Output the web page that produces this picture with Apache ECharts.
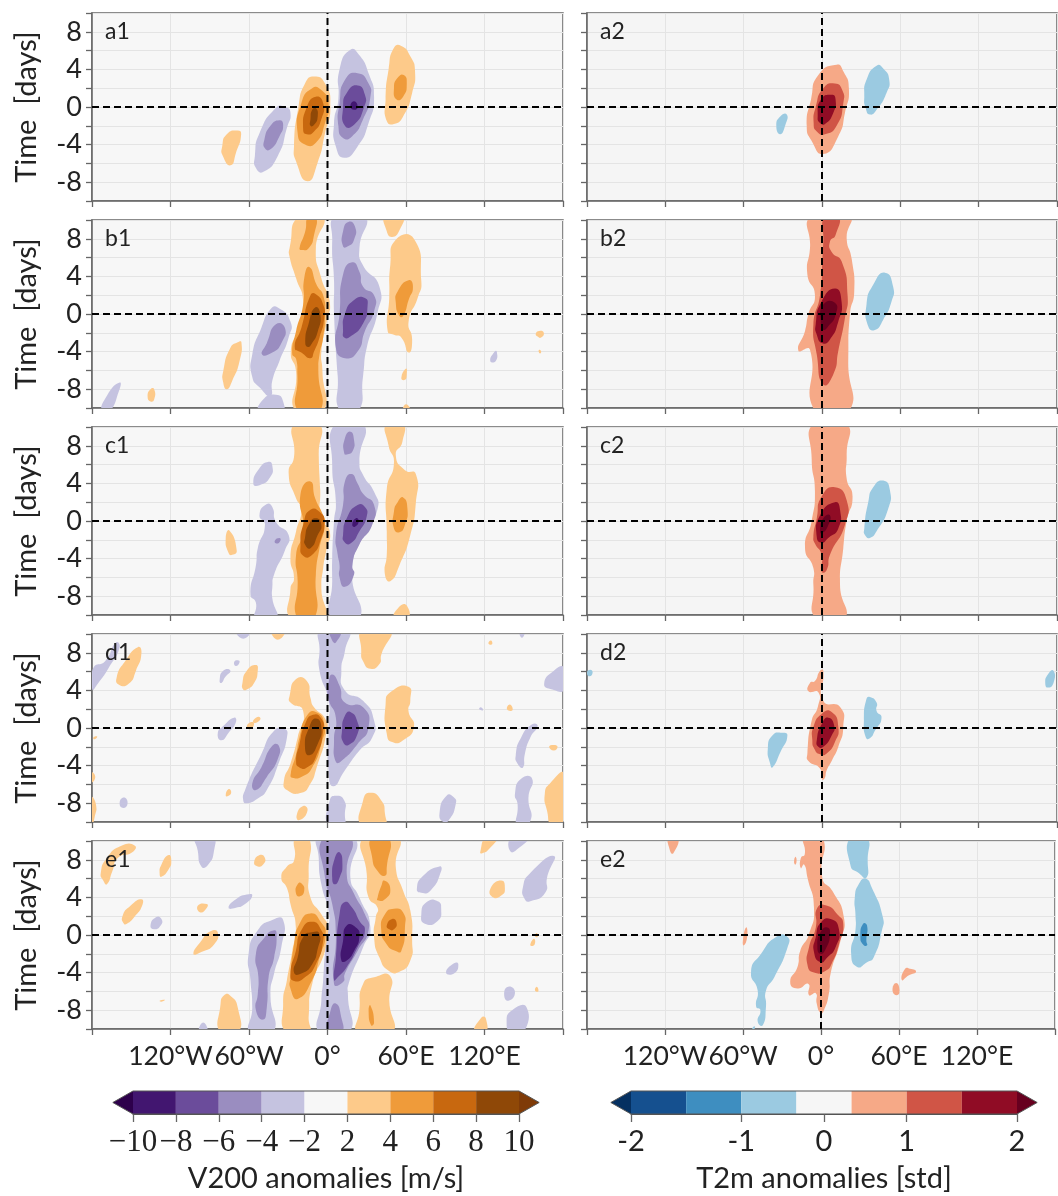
<!DOCTYPE html>
<html><head><meta charset="utf-8">
<style>html,body{margin:0;padding:0;background:#fff;overflow:hidden}#c{width:1058px;height:1196px}</style>
<script src="https://cdn.jsdelivr.net/npm/echarts@6/dist/echarts.min.js"></script>
</head><body><div id="c"></div>
<script>
// contour regions: [level, [lon, day, lon, day, ...]]  outer levels first
const a1=[
[2,[-80.5,-4.2,-77,-2.9,-68.6,-2.5,-66,-2.9,-70,-4.9,-74,-6.2,-80,-5.2]],
[-2,[-55.5,-5.2,-52,-2.8,-39.5,-0.1,-32.5,0,-28.3,-0.6,-31,-2.2,-38,-5.2,-49,-6.9,-54.7,-6.5]],
[-4,[-48.3,-3.5,-43.6,-2,-36.7,-1.4,-33.9,-1.9,-36.7,-3.1,-43.6,-4.5,-47.8,-4.4]],
[2,[-25.6,-4.2,-22.2,0,-17.2,2.5,-10.3,3.25,-1.9,2.5,2.2,0,-1.9,-2.8,-7.5,-5.9,-15.3,-7.9,-24,-5.8]],
[4,[-22.8,-2.8,-20,0.4,-11.7,2,-4.7,1.8,0.8,0.4,-1.9,-1.7,-8.9,-3.8,-17.2,-4]],
[6,[-18.6,-2.4,-15.8,0,-8.9,1.1,-3.3,0.4,-4.7,-1.3,-10.3,-2.6,-15.8,-2.9]],
[8,[-13,-1.3,-11.7,-0.3,-8.9,-0.1,-7.5,-1,-10.3,-1.9,-13,-2]],
[-2,[8.3,0.8,9.2,4,17.5,6.1,24.4,5.5,31.4,3.6,35.6,1.1,31.4,-1.7,23,-4.2,12.8,-5.4,6.4,-4.2,5,-1.7]],
[-4,[9.2,0.4,13.4,2.9,23,3.6,31.4,2.5,32.8,1.1,27.2,-1.3,18.9,-3.1,11.9,-3.3,8.3,-2]],
[-6,[11.9,0,14.7,1.5,23,2.3,28.6,1.3,28,0,20.3,-1.9,13.3,-2]],
[-8,[17.5,0.1,20.3,0.6,23,0,20.3,-0.3]],
[2,[44.4,0.8,46.7,4,50.8,6.3,56.4,6.5,63.3,5.4,66.9,3.8,64.7,1.5,57.8,-1,50.8,-1.8,45.3,-1.5]],
[4,[50.8,2,53.6,3.1,58.3,3.4,60.6,2.5,57.8,1.1,52.8,0.8]]
];
const a2=[
[-0.33,[-35,-2,-32,-1,-27,-0.8,-28,-1.9,-32,-2.9]],
[-0.33,[32.4,1.1,34.1,2.9,41.8,4.4,46.9,4.1,51.5,2.9,49.4,1.5,41.8,-0.3,36.7,-0.8,33.4,-0.1]],
[0.33,[-11.7,-2,-8.4,0.8,-2.8,3.4,11.2,4.5,16.3,3.8,20.6,2,17.6,-0.6,12.5,-3.1,1,-5,-8,-3.6]],
[1,[-6.4,-1.7,-4.8,0,1,2,9.9,2.5,15.5,1.8,16.3,0.4,11.2,-2,2.3,-2.9,-4,-2.6]],
[1.5,[-3.3,-1,-0.8,0.8,7.4,1.3,10.4,0.8,8.7,-0.6,2.3,-1.8,-1.5,-1.7]]
];
const b1=[
[-2,[-172.8,-10.5,-168.6,-8.7,-158.9,-7.3,-159.4,-8.2,-167.2,-10.5]],
[2,[-135.3,-8,-132.5,-8,-132.5,-9.1,-135.3,-9.3,-137.5,-8.8]],
[2,[-79.7,-6.1,-74.2,-3.6,-68.6,-3,-65.8,-3,-67.2,-5,-72.8,-7.1,-77,-8,-79.7,-7.3]],
[-2,[-57.5,-4.3,-50.6,-1.5,-43.6,0.5,-38,0.7,-28.3,-0.8,-29.7,-2.5,-36.7,-5,-42.2,-7.1,-43.6,-8.7,-52,-7.8,-57.5,-6.7]],
[-2,[-52,-10.5,-49.2,-9.1,-39.4,-8.6,-33.9,-9.3,-35.3,-10.5]],
[-4,[-50,-4.3,-46.4,-3.1,-39.4,-1.1,-32.5,-1.5,-35.3,-3.1,-42.2,-4.1]],
[2,[-21.4,10.5,-29,7,-29,6.1,-24,3.8,-18.6,1.3,-22,-1.5,-28,-4,-24,-6.1,-24,-10.5,-3.9,-10.5,-3.9,-6,-4.7,-4,-0.6,-0.8,1.7,1.3,-4.7,3.8,-8.9,7,-3.3,10.5]],
[4,[-21.4,7,-17.2,8.7,-14.4,10.5,-8.9,10.5,-10.3,8.4,-14.4,7,-20,6.8]],
[4,[-13.9,5,-8,3,-3.3,2,-1.9,0,-3.3,-2.5,-6.1,-4.3,-7,-6,-6,-10.5,-22,-10.5,-23,-6.5,-24,-4.8,-27,-4.2,-24,-1.8,-18.6,1,-17.8,3.8]],
[6,[-25,-3.6,-20,-1.5,-13,2,-8.9,2.1,-3.3,1,-2.5,-0.4,-6.1,-2.5,-10.3,-4,-13,-4.7,-20,-4.1]],
[8,[-17,-3,-14.4,-1,-9.4,0.7,-5.5,0,-7.5,-1.9,-12.2,-3.2,-15,-3.5]],
[-2,[6.4,10.5,28.6,10.5,24.4,7,27,5.2,39.7,2.9,38,0,30,-3.6,27.2,-6.6,23,-10.5,10,-10.5,7.8,-6.6,5,0,5,3.5,3.6,7.8]],
[-4,[11.9,7.2,11.9,8.8,16,9.8,21,9.3,20.3,7.9,15.6,7.2]],
[-4,[6.4,-3.6,9.2,0,11.9,4.2,18.9,5.5,24.4,4.5,27.2,2.9,35.6,2,35.6,0.3,28.6,-1.8,23,-4,13.3,-4.7]],
[-6,[11.9,-1.8,13.3,0,20.3,1.5,28.6,1.7,30.6,0.8,27.2,-1,17.5,-2.4,12.8,-2.5]],
[2,[44.4,10.5,57.2,10.5,55,8.9,49.4,8.2,45.3,8.8]],
[2,[46,-1.8,47.2,1.7,48,5.2,52.2,7.9,66,8,71.7,3.5,68.9,1.7,62,-0.8,64.7,-2.7,62,-4.1,56.4,-2.5,50.8,-2.2]],
[4,[52.2,1.2,53.6,2.4,62,3.6,65.3,2.9,62,1.5,57.8,-0.2,55,-0.2]],
[2,[56.4,-6.8,60,-5.8,60.6,-6.4,59.2,-7]],
[2,[57.8,-10.3,60,-9.6,63.3,-10.3]],
[2,[159.2,-2.1,161.9,-1.8,165.3,-2,163.3,-2.5,160.6,-2.4]],
[2,[161.9,-3.8,163.3,-4,162.5,-4.2,161.4,-4]],
[-2,[124.4,-5,127.8,-4,129.4,-4,128.6,-5]]
];
const b2=[
[-0.33,[34.1,1,39.2,3.1,48.2,4.4,54.5,2.9,53.2,1.3,46.9,-0.6,40.5,-1.7,35.4,-1.3]],
[0.33,[-7.9,10.5,-9.2,7,-11.2,4.2,-5.4,2,-10.4,0,-13,-1.8,-18.1,-3.9,-9.2,-3.8,-4.8,-10.5,20.1,-10.5,20.1,-5,21.4,0,24.7,2.4,22.7,5.9,18.9,8,20.6,10.5]],
[1,[2.3,10.5,12.5,10.5,10.4,8.4,6.1,7.7,7.4,6.6,15,5.6,19.6,2,17.6,-0.4,12.5,-3.9,8.7,-6.4,1,-7.5,-4,-4.3,-6.6,-1.1,-1.5,2,0.3,5.6,1,7.7]],
[1.5,[-4.8,-1.1,-0.8,1.2,9.9,2.7,15,1.3,12.5,-0.8,6.1,-2.7,0.3,-3.1,-4,-2.2]],
[2,[-0.8,-1.1,1,1,9.9,1.2,10.4,-0.1,4.8,-1.3,1,-1.7]]
];
const c1=[
[-2,[-56.7,4,-52,5.6,-45,6.3,-42.2,5.9,-43.6,4.7,-52,3.8]],
[-2,[-52,0.6,-46.4,1.8,-42.2,1.5,-39.4,-0.1,-29.7,-1.5,-32.5,-3.1,-40.8,-5.7,-42.2,-7.1,-42.2,-8.2,-39.4,-10.5,-54.7,-10.5,-54.7,-8.7,-58.9,-7.8,-54.7,-4.7,-53.3,-2.9,-47.8,-0.4]],
[-4,[-40.3,-2.1,-36.7,-1.8,-36,-2.1,-38.9,-2.4]],
[2,[-77.8,-1.8,-75,-1,-69.4,-3.1,-72.8,-3.6,-75.6,-3.4]],
[2,[-25,10.5,-25.6,6.8,-29.7,5.1,-24,2.4,-20,1.3,-24,-1.1,-28.3,-3.9,-25.6,-6.1,-28.3,-7.2,-27,-10.5,-2.8,-10.5,-4.7,-7.2,-3.3,-5,-0.6,-2.9,1.7,-1.1,-4.7,0.3,-5.6,3.4,-6.7,7,-6.7,10.5]],
[4,[-22.8,-10.5,-22.8,-6.4,-24,-3.6,-18.6,-1.1,-20.6,2.9,-13,4.2,-9.4,2.4,-3.3,0.6,-1.9,-0.4,-6.1,-2.9,-8.9,-5.7,-10.3,-10.5]],
[6,[-20.6,-2.5,-18.6,-0.4,-13,1.2,-4.7,0.8,-2.5,-0.1,-4.7,-1.8,-11.7,-3.6,-18.6,-3.7]],
[8,[-17.2,-1.8,-14.4,-0.4,-8.9,0.3,-4.7,-0.4,-7.5,-1.5,-13,-2.9,-17.2,-2.5]],
[-2,[6.4,10.5,3.6,5.9,6.4,2,5,0,3.6,-3.9,3.6,-6.4,3.6,-10.5,24.4,-10.5,18.9,-5.4,28.6,-1.1,38.3,1.3,35.6,3.1,27.2,4.9,24.4,6.3,27.2,10.5]],
[-4,[12.8,7.2,13.3,8.8,17.5,9.5,20.3,8.6,19.4,7.5,15.6,7.1]],
[-4,[7.8,-3.6,6.4,-1.5,11.9,1.7,13.3,4.2,18.3,5,23,4,27.2,2.9,35.6,1.7,34.2,-0.4,24.4,-2.5,18.9,-4.7,20.3,-5.7,13.3,-7,9.2,-6,9.2,-4.7]],
[-6,[11.9,-1.5,14.7,0.3,23,1.7,28.6,1.5,30,0.5,24.4,-1.1,17.5,-2.4,12.8,-2.2]],
[-8,[18.9,-0.4,21.7,0.3,23.9,0,21,-0.6]],
[2,[45.3,10.5,57.2,10.5,57.2,8.4,52.2,7,59.2,5.4,67.5,5,67.5,1.9,63.3,-1.5,55,-4.7,48,-6.4,43.9,-5.7,45.3,-3.6,45.3,-1.1,45.3,3.4,50.8,6.2,46.7,8]],
[4,[50.8,1,53.6,2,57.8,2.5,61.1,1.3,59.2,-0.4,55,-1.2,50.8,-0.8]],
[2,[50.8,-10.5,55,-9.1,60.6,-9,61.1,-10.5]]
];
const c2=[
[-0.33,[32.4,-0.8,35.4,2,39.2,3.6,46.9,4.3,52,3.3,50.7,1.3,41.8,-1.1,36.7,-1.8,32.9,-1.5]],
[0.33,[-5.9,10.5,-7.9,6.6,-5.4,3.1,-7.9,0,-13,-2.9,-6.6,-5,-6.6,-6.8,-4,-10.5,17.1,-10.5,13.8,-6.8,16.3,-2.9,18.9,0,23.4,2.6,18.9,4.5,18.9,7,18.1,10.5]],
[1,[-6.6,-1.7,-4,0.3,-0.3,2.6,9.9,3.6,18.9,2.2,17.6,-0.4,6.1,-3.6,3.6,-5.2,-0.3,-5.4,-0.3,-3.6,-5.4,-2.4]],
[1.5,[-4,-1.7,-1.5,0.6,9.9,2,13.8,1.2,12.5,-0.8,4.8,-1.8,-0.3,-2.3]],
[2,[-1.5,-1.1,1,0.3,6.1,0.6,4.3,-0.6,-0.3,-1.3]]
];
const d1=[
[-2,[-179.7,4.1,-178.9,6.4,-170,7.1,-161.7,9.1,-158.9,8.6,-167.2,6.4,-175.6,4.7]],
[2,[-161.1,5.4,-154.7,7.1,-145,8.6,-142.2,8,-146.4,6.1,-152,4.7,-159.4,4.6]],
[-2,[-82.5,5,-79.7,6.1,-74.2,6.1,-78.3,5.4,-81,4.8]],
[-2,[-71.4,7,-68.6,7.2,-67.2,7,-70,6.6]],
[2,[-65,4.8,-61.7,6.1,-54.7,6.7,-53.3,6.1,-56.1,4.8,-61.7,4.1,-64.4,4.1]],
[-2,[-70,10.5,-58.9,10.5,-64.4,9.5]],
[2,[-42.8,10.5,-32.5,10.5,-38,9.4]],
[-2,[-83.9,-0.6,-79.7,0.2,-71.4,1.1,-70,0.6,-75.6,-0.5,-81,-1.3]],
[2,[-61.7,0.1,-58.9,0.6,-56.1,0.5,-58.9,-0.1]],
[2,[-56.9,0.6,-54.7,1.1,-51.4,1.1,-52.8,0.7]],
[-2,[-64.4,-7.7,-63,-6.6,-50.6,-2.8,-40.8,-0.3,-32.5,-0.1,-31,-1,-36.7,-3.5,-46.4,-6.6,-53.3,-7.5,-61.7,-8]],
[-4,[-57.5,-5.9,-50.6,-4.2,-42.2,-1.9,-37.2,-1.9,-38,-3.3,-46.4,-5.2,-54.7,-6.6]],
[2,[-33.3,-5.6,-28.3,-3.8,-22.8,-1,-18.6,1.8,-28.3,2.7,-29,3.4,-24,5.2,-15.8,5,-13,3.2,-10.3,2.2,-1.9,1,-0.6,-0.3,-8.9,-4.5,-13,-5.9,-20,-6.9,-31,-6.6]],
[4,[-28,-4.8,-24,-2.8,-21.4,-1,-15.8,1.3,-8.9,1.7,-2.5,0.4,-4.7,-1.7,-11.7,-4.2,-18.6,-5.1,-27,-5.3]],
[6,[-24,-3.6,-21.4,-1.7,-17.2,0.4,-11.1,1.4,-4.7,1,-3.3,-0.3,-8.9,-3.1,-15.8,-4.2,-21.4,-4.2]],
[8,[-17.2,-2,-13.9,0.1,-8.9,1,-4.7,0.1,-7.5,-1.7,-13.9,-2.9]],
[2,[-77.8,-7.2,-75.6,-6.5,-73.6,-6.8,-75.6,-7.2]],
[-2,[-158.9,-8,-155.6,-7.4,-152.8,-8,-156.1,-8.5]],
[2,[-181,-5.8,-181,-4.7,-177.5,-5.2]],
[2,[-180.5,-10.5,-180.5,-7.4,-177,-8.1,-178,-9.5]],
[2,[-179,-1,-176,-0.9,-178,-1.2]],
[2,[-23.6,-9.3,-18.6,-8.3,-15.3,-8.8,-21.4,-9.8]],
[-2,[-4.7,10.5,15.6,10.5,13.3,8.2,10.6,6.1,13.3,4,27.2,2.9,35.6,0.8,34.2,-1,24.4,-2.4,13.3,-4.5,4.4,-6.2,0.8,-4.5,0.8,0.1,0.8,2.9,-6.1,6.1,-6.1,8.2]],
[-4,[2.2,10.5,10,10.5,6.4,9.1,3.6,9.3]],
[-4,[3.6,5.7,9.2,4.5,13.3,2.7,27.2,2.2,31.4,0.1,23,-1.7,10.6,-3.5,6.4,-3.6,5,-1.3,6.4,1.1,0.8,3.1,0.8,4.7]],
[-6,[11.1,-0.3,13.3,1.3,17.5,1.7,23,0.6,23,-0.6,16.1,-1.8,11.9,-1.5]],
[-2,[0.8,-10.5,1.7,-7.7,6.4,-7.2,12.8,-7.7,13.3,-9.1,11.9,-10.5]],
[2,[27.2,10.5,48,10.5,41.1,7.8,39.7,6.8,32.8,6.3,27.2,7.1,25.8,8.2]],
[2,[44.4,2.5,48,3.8,61.9,4.4,63.3,2.9,61.9,1.8,66.1,0.1,57.8,-1.3,49.4,-1.5,45.3,-0.6]],
[2,[26.4,-10.5,27.2,-7.7,32.8,-6.9,41.1,-7.7,43.9,-9.1,43.3,-10.5]],
[-2,[85.6,-9.1,91,-7.2,96.7,-7.4,98,-8.1,92.8,-9.8,88.6,-10]],
[-2,[143.9,-2.9,148,-1,156.4,0.4,160.6,0.2,155,-1,150.8,-2.8,149.4,-4.2,145.3,-3.8]],
[-2,[143.3,-7,148,-5.4,156.4,-5.4,153.6,-7.4,155,-9.9,145.3,-10.5,145.3,-8.1]],
[2,[166.1,-7,170,-5.9,181,-4.9,181,-10.5,172,-10.5,167.8,-8.8]],
[-2,[165.6,4.7,173,6.1,181,6.4,181,4.1,171.7,4.1]],
[2,[137.2,2,139.4,2.5,141.4,1.9]],
[2,[123,9,125,9.3,125.8,8.9]],
[-2,[116,2,117.2,2.2,118.9,1.9]],
[2,[169.4,-2,173,-1.8,175.8,-2,173,-2.4]],
[-2,[146.7,10.5,150.8,10.5,148.6,9.6]]
];
const d2=[
[-0.33,[-180,5.9,-177.5,6.2,-175.7,5.9,-178,5.5]],
[-0.33,[171,4.8,173,5.7,177.3,6.1,177.3,4.8,173,4.3]],
[-0.33,[-41.5,-2.2,-38,-0.8,-30.8,-0.5,-26.5,-0.8,-32,-2.6,-38,-4.2,-39.7,-3.8]],
[-0.33,[32.1,0.8,34.1,3.1,36.7,3.3,41.8,2.7,41.8,1.8,45.6,1.1,40.5,-0.3,36.7,-1.1,33.6,-1]],
[0.33,[-10.4,3.9,-9.2,4.8,-5.4,5,-1.5,6.1,1,6.1,1,2.9,14,2.2,16.3,0.1,12.5,-2,7.4,-3.5,3.6,-4.5,1.8,-5.4,-0.3,-5.4,-1.5,-4.3,-10.4,-3.5,-11.2,-2.7,-7.9,0.8,-3.3,2.2,-2.8,3.8]],
[1,[-7.4,-1.3,-6.6,0.1,-0.3,1.5,7.4,1.7,12.5,0.1,9.9,-1.5,3.6,-2.7,-1.5,-2.8,-5.9,-2.2]],
[1.5,[-4,-1.3,-0.3,0.4,4.8,1.1,9.4,0.2,7.4,-0.8,1,-2,-2.8,-2]]
];
const e1=[
[2,[-173.3,6.6,-168.6,8.2,-157.5,9.5,-147.2,9.5,-149.2,8.8,-160.3,8.2,-164.4,6.8,-168.6,5.4,-171.4,5.8]],
[2,[-128.3,6.5,-126.9,7.5,-121.4,8.5,-119.4,7.9,-121.4,7,-126.9,6.2]],
[-2,[-100.6,10.5,-88,10.5,-86.7,9,-91.7,7.4,-96.4,7.3,-99.2,9]],
[2,[-56.1,7.7,-51.9,8.5,-47.8,8.2,-49.2,7.5,-53.3,7.3]],
[-2,[-75.6,2.9,-70,3.8,-61.7,4.3,-57.5,4.2,-63,3.3,-70,2.9]],
[2,[-156.7,2,-150.6,3.1,-142.2,3.8,-141.7,3.1,-147.8,1.9,-153.3,1.2,-155.6,1.2]],
[2,[-99.2,3.1,-92.2,3.3,-92.2,2.9,-97.2,2.4]],
[-2,[-135.3,1,-131.1,1.9,-126.9,1.7,-127.5,1,-132.5,0.6]],
[2,[-102.5,-2,-96.4,-0.6,-89.4,0.4,-83.9,0.3,-86.7,-1,-96.4,-1.8]],
[-2,[-53.3,0.5,-42.2,1.6,-33.9,1.6,-35.3,-1.3,-40.8,-4.1,-43.6,-6.3,-41.7,-10.5,-58.9,-10.5,-57.5,-7.7,-58.9,-4.8,-60.3,-2]],
[-4,[-54.7,-2,-47.8,-0.2,-40.8,0.5,-38.9,0.1,-40.8,-2.4,-45,-4.5,-46.4,-7.7,-49.2,-9,-54.7,-8,-53.3,-6.3,-52.8,-4.5]],
[2,[-35.3,6.1,-31,7.3,-25.6,7.9,-24.2,10.5,-14.4,10.5,-14.4,6.6,-13,4,-4.7,2.2,0.8,0.6,-1.9,-1.7,-11.7,-5.2,-14.4,-8.7,-14.4,-10.5,-31,-10.5,-33.9,-7.3,-31,-4.8,-26.9,-1.7,-24.2,0.8,-28.3,3.3,-31,5]],
[4,[-24.2,4.5,-22.8,5.4,-20,5.5,-17.8,4.7,-21.4,4.1]],
[4,[-28.3,-4.5,-25.6,-1,-21.4,1.2,-13,2.3,-4.7,1.3,-1.4,0.1,-6.1,-2.4,-11.7,-4.8,-22.8,-6.8,-28.3,-5.7]],
[6,[-28.3,-4.1,-24.2,-1.7,-20,0.5,-11.7,1.4,-4.7,0.5,-3.3,-0.6,-8.9,-3.1,-17.2,-4.5,-25.6,-4.9]],
[8,[-25.6,-4,-22.8,-2.4,-18.6,-0.2,-11.7,0.3,-6.1,0.1,-7.5,-1.5,-11.7,-3.1,-20,-4.1]],
[2,[-81.7,-7.3,-79,-6.4,-74.7,-6.4,-68.6,-7.7,-68.6,-10.5,-81.7,-10.5]],
[-2,[-98.3,-10.5,-95,-9.3,-91.7,-10.5]],
[2,[-128.3,-7,-124.2,-6.9,-127,-7.1]],
[-2,[-6.1,10.5,20.3,10.5,17.5,6.1,24.4,4,32.8,0.8,27.2,-1.3,16.1,-5.2,15.6,-6.3,16.1,-10.5,-5.6,-10.5,-4.7,-7,-3.3,-4.8,-1.9,-2,0.8,0.8,0.8,2.6,-4.7,5.4,-6.7,8.2]],
[-4,[-2.8,10.5,17.5,10.5,14.7,6.5,20.3,4.4,28.6,2.2,31.4,0.5,23,-1.7,13.3,-4.1,11.9,-5,5,-5.2,6.4,0.1,3.6,3.3,-1.9,6.1]],
[-4,[0.8,-10.5,2.8,-7.8,6.4,-7.3,10,-8.4,10.6,-10.5]],
[-6,[3.6,6.1,5.6,8.2,9.2,8.8,11.4,7.5,9.2,6.1,5.6,5.4]],
[-6,[5,-4.8,6.4,-2.4,9.2,2.2,13.3,3.5,18.9,2.9,24.4,1.5,28.6,0.5,23,-1.3,14.7,-3.4,7.8,-4.5]],
[-8,[10.6,-2.7,11.9,-0.6,14.7,1,21.7,0.8,24.4,-0.1,20.3,-1.7,14.7,-2.7]],
[2,[28,10.5,53.6,10.5,52.2,7.2,57.8,4.7,63.3,2.6,64.7,-0.6,63.3,-2.7,55,-3.9,46.7,-3.8,39.7,-2.4,35.6,-0.2,36.9,1.9,38.3,2.9,31.4,4,30,6.5]],
[4,[34.2,10.5,46.7,10.5,45.3,7.2,43.9,6.3,38.3,6.8,34.2,8.2]],
[4,[38.3,4,41.1,5.2,43.3,5.8,48,4.9,43.9,3.8,38.3,3.7]],
[4,[41.1,0.5,43.9,2.2,50.8,2.8,57.8,2.4,59.2,0.8,56.4,-1.7,52.2,-1.7,45.3,-1]],
[6,[45.3,1,49.4,1.7,52.8,1.3,50.8,0.6,47.2,0.6]],
[2,[23.9,-10.5,24.4,-8,27.2,-5.2,35.6,-4.5,48,-4.4,47.2,-7,48.9,-10.5]],
[4,[31.4,-8,32.8,-7.5,35.6,-9.3,33.3,-9.6]],
[-2,[68.3,4.9,73.1,6.3,85.6,7.3,86.9,6.8,78.6,4.7,71.7,4.5]],
[-2,[71.7,2.2,75.8,3.5,84.2,3.6,86.9,2.8,84.2,1.5,74.4,1.2]],
[-2,[149.4,5.1,155,6.6,173,8.4,167.8,6.1,166.4,4.5,155,3.6,150.8,3.8]],
[2,[124.4,4.9,132.8,5.8,135.6,4.9,132.8,4.2,126.7,4]],
[2,[116.7,8.8,121.7,10.5,130,10.5,123.1,9.1,118.3,8.7]],
[-2,[139.7,8.9,141.1,10.5,153.6,10.5,146.7,9.3]],
[-2,[90.6,-4,96.7,-3,100,-3.1,96.7,-4.1]],
[-2,[135,-6.3,138.3,-5.5,143.3,-6.1,138.3,-7]],
[-2,[136.9,-9.3,141.1,-8,152.2,-7.7,149.4,-10.5,141.1,-10.5]],
[2,[112,-10.5,117.5,-8.8,121.1,-8.9,120.3,-10.5]],
[2,[155,-1.1,157.8,-0.4,158.3,-1]],
[2,[158.6,-0.1,160,0.2,160.6,-0.2]],
[2,[158.6,-5.9,160,-5.5,161.1,-6]]
];
const e2=[
[0.33,[-116.9,10.5,-109.8,10.5,-113.6,8.7,-116.2,9]],
[0.33,[-20.6,8,-19.4,8.3,-18.9,7.7,-20.1,7.5]],
[0.33,[-60.1,-0.6,-57.6,0.8,-56.8,-0.2,-59.4,-1.1]],
[-0.33,[-53.8,-3.9,-46.1,-2,-34.6,-0.2,-25.7,-0.2,-25.7,-1.3,-35.9,-4.5,-42.3,-5.9,-42.3,-7.6,-44.8,-9.6,-48.7,-9.2,-46.6,-8,-49.9,-7.6,-48.7,-5.9]],
[-0.33,[-53,-10,-51.2,-9.7,-51.2,-10]],
[0.33,[-12.5,10.5,1,10.5,1,6.1,8.7,4.7,17.6,1.9,15,-0.6,7.4,-4.1,6.1,-6.2,2.3,-8,-0.3,-8.3,-3.3,-7.3,-4,-6.2,-9.2,-6.4,-9.7,-5.2,-18.1,-5.7,-23.7,-5,-18.1,-3.4,-16,-1.7,-9.2,0.1,-5.4,2.9,-10.4,6.1,-13,7.5,-15.5,7.1,-15.5,8.2,-12.5,8.6]],
[1,[-10.4,-3.2,-9.2,-1.3,-4,0.8,-2.8,2.9,4.8,3.1,12.5,2.2,17.1,1.2,13.8,-1,8.7,-2.9,3.6,-3.8,-5.4,-4]],
[1.5,[-5.4,-1.8,-4,-0.2,-0.3,1.3,7.4,1.7,13.8,0.6,11.2,-1.3,4.8,-2.4,-0.3,-2.9]],
[2,[-2.8,-1.3,-0.3,0.3,4.8,0.8,6.9,0.1,3.6,-1.5,-0.3,-2]],
[-0.33,[22.7,10.5,34.9,10.5,35.9,7.9,34.9,6.1,29,6.6,22.7,7.4]],
[-0.33,[26,4,29,5.4,34.1,6,39.2,5,47.6,1.9,46.9,0.5,40.5,-2.4,35.4,-2.9,27.8,-3.4,23.2,-2,26.5,0.5,26.5,2.2]],
[-1,[30.3,-0.2,32.4,1.2,35.4,1,34.9,-0.6,35.4,-1.1,32.4,-1]],
[0.33,[62.2,-4.8,64.7,-3.6,68.5,-3.6,73.1,-3.9,67.3,-4.3]],
[0.33,[55,-5.9,57.8,-5.1,60.4,-5.9,58.3,-6.4]]
];
// colours per contour level
const v200Colors={'-8':'#421670','-6':'#6b4c9b','-4':'#9a8dc0','-2':'#c5c3e0','2':'#fdca8a','4':'#ef9b3a','6':'#c8680f','8':'#8f4807'};
const t2mColors={'-1':'#3e8ec0','-0.33':'#9bcae1','0.33':'#f6a987','1':'#d05546','1.5':'#900c25','2':'#67001f'};
// colour bars
const v200Bins=['#421670','#6b4c9b','#9a8dc0','#c5c3e0','#f7f7f7','#fdca8a','#ef9b3a','#c8680f','#8f4807'];
const v200Tips=['#2d004b','#7f3b08'];
const v200Ticks=['\u221210','\u22128','\u22126','\u22124','\u22122','2','4','6','8','10'];
const t2mBins=['#15508f','#3e8ec0','#9bcae1','#f6f6f6','#f6a987','#d05546','#900c25'];
const t2mTips=['#053061','#67001f'];
const t2mTickPos=[0,2,3.5,5,7];
const t2mTicks=['-2','-1','0','1','2'];
// axis labels
const lonTicks={'-120':'120°W','-60':'60°W','0':'0°','60':'60°E','120':'120°E'};
const dayTicks=[8,4,0,-4,-8];

const panels=[
 ['a1',a1,0,0],['a2',a2,1,0],['b1',b1,0,1],['b2',b2,1,1],['c1',c1,0,2],['c2',c2,1,2],
 ['d1',d1,0,3],['d2',d2,1,3],['e1',e1,0,4],['e2',e2,1,4]];
const FONT='Lato';
const gridTop=[13,220,427,634,841], gridH=188;
const grids=[],xAxes=[],yAxes=[],series=[],titles=[];
const AX='#666';
panels.forEach(([name,layers,col,row],i)=>{
  const left=col?587:92,width=col?470:471;
  grids.push({left,top:gridTop[row],width,height:gridH,show:true,backgroundColor:col?'#f5f5f5':'#f7f7f7',borderColor:AX,borderWidth:1.5});
  xAxes.push({type:'value',gridIndex:i,min:-180,max:180,interval:60,position:'bottom',
    axisLine:{show:true,onZero:false,lineStyle:{color:AX,width:1.5}},axisTick:{show:true,length:6,lineStyle:{color:AX,width:1.3}},
    splitLine:{show:true,lineStyle:{color:'#e4e4e4',width:1}},
    axisLabel:{show:row===4,margin:14,fontFamily:FONT,fontSize:26.5,color:'#222',formatter:v=>lonTicks[v]||''}});
  yAxes.push({type:'value',gridIndex:i,min:-10,max:10,interval:2,position:'left',
    name:col?'':'Time  [days]',nameLocation:'middle',nameRotate:90,nameGap:51,
    nameTextStyle:{fontFamily:FONT,fontSize:29,color:'#222'},
    axisLine:{show:true,onZero:false,lineStyle:{color:AX,width:1.5}},axisTick:{show:true,length:6,lineStyle:{color:AX,width:1.3}},
    splitLine:{show:true,lineStyle:{color:'#e4e4e4',width:1}},
    axisLabel:{show:!col,margin:10,fontFamily:FONT,fontSize:27,color:'#222',formatter:v=>dayTicks.includes(v)?String(v):''}});
  const colors=col?t2mColors:v200Colors;
  series.push({type:'custom',xAxisIndex:i,yAxisIndex:i,silent:true,z:3,animation:false,
    data:layers.map((l,k)=>[k]),
    renderItem(params,api){
      const [lev,flat]=layers[params.dataIndex],pts=[];
      for(let k=0;k<flat.length;k+=2)pts.push(api.coord([flat[k],flat[k+1]]));
      const c=params.coordSys;
      return {type:'polygon',shape:{points:pts,smooth:0.6},style:{fill:colors[String(lev)]},
        clipPath:{type:'rect',shape:{x:c.x,y:c.y,width:c.width,height:c.height}}};
    }});
  const dash={color:'#000',width:2,type:[7,4]};
  series.push({type:'line',xAxisIndex:i,yAxisIndex:i,silent:true,z:5,symbol:'none',animation:false,lineStyle:dash,data:[[-180,0],[180,0]]});
  series.push({type:'line',xAxisIndex:i,yAxisIndex:i,silent:true,z:5,symbol:'none',animation:false,lineStyle:dash,data:[[0,-10],[0,10]]});
  titles.push({text:name,left:left+8,top:gridTop[row]+2,textStyle:{fontFamily:FONT,fontSize:23,fontWeight:'normal',color:'#222'}});
});
// colour bars as two more value-axis grids
function addBar(idx,left,width,bins,tips,tickFmt,custom,labelFont,labelSize,title){
  const n=bins.length;
  grids.push({left,top:1091,width,height:23});
  const lab={show:true,margin:13,fontFamily:labelFont,fontSize:labelSize,color:'#222',formatter:tickFmt};
  const tick={show:true,length:8,lineStyle:{color:AX,width:1.3}};
  if(custom){lab.customValues=custom;tick.customValues=custom;}
  xAxes.push({type:'value',gridIndex:idx,min:0,max:n,interval:1,position:'bottom',
    axisLine:{show:true,onZero:false,lineStyle:{color:'#555',width:1}},axisTick:tick,splitLine:{show:false},axisLabel:lab,
    name:title,nameLocation:'middle',nameGap:50,nameTextStyle:{fontFamily:FONT,fontSize:29,color:'#222'}});
  yAxes.push({type:'value',gridIndex:idx,min:0,max:1,show:false});
  const tip=0.47*n/9;
  const items=bins.map((c,k)=>({value:[k],c,pts:[[k,0],[k+1,0],[k+1,1],[k,1]]}));
  items.push({value:[0],c:tips[0],pts:[[0,0],[0,1],[-tip,0.5]]});
  items.push({value:[n],c:tips[1],pts:[[n,0],[n,1],[n+tip,0.5]]});
  items.push({value:[0],c:null,pts:[[0,0],[n,0],[n+tip,0.5],[n,1],[0,1],[-tip,0.5]]});
  series.push({type:'custom',xAxisIndex:idx,yAxisIndex:idx,silent:true,z:3,animation:false,
    data:items.map(o=>o.value),
    renderItem(params,api){
      const o=items[params.dataIndex];
      return {type:'polygon',shape:{points:o.pts.map(p=>api.coord(p))},
        style:o.c?{fill:o.c}:{fill:'none',stroke:'#555',lineWidth:1}};
    }});
}
addBar(10,133,386,v200Bins,v200Tips,v=>v200Ticks[v]||'',null,'Liberation Serif',31,'V200 anomalies [m/s]');
addBar(11,631,386,t2mBins,t2mTips,v=>{const k=t2mTickPos.indexOf(v);return k<0?'':t2mTicks[k];},t2mTickPos,FONT,29,'T2m anomalies [std]');
const chart=echarts.init(document.getElementById('c'),null,{renderer:'canvas',width:1058,height:1196});
chart.setOption({animation:false,backgroundColor:'#fff',title:titles,grid:grids,xAxis:xAxes,yAxis:yAxes,series});
</script></body></html>
